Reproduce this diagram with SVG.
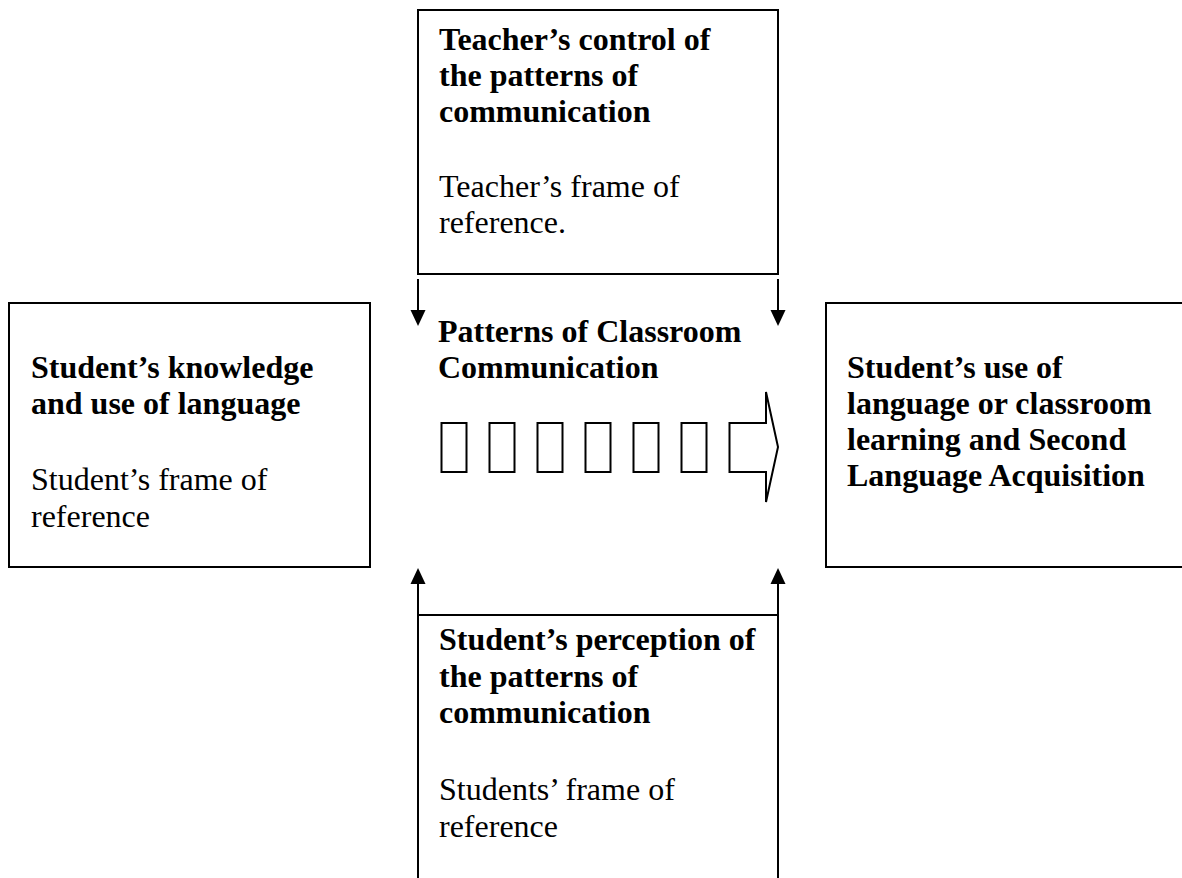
<svg xmlns="http://www.w3.org/2000/svg" width="1182" height="878" viewBox="0 0 1182 878">
  <defs>
    <style>
      .box { fill: #fff; stroke: #000; stroke-width: 2; }
      .link { fill: none; stroke: #000; stroke-width: 2; }
      .cell { fill: #fff; stroke: #000; stroke-width: 2; }
      text { font-family: "Liberation Serif", "Times New Roman", serif; font-size: 32px; fill: #000; }
      .b { font-weight: bold; }
    </style>
    <marker id="head" viewBox="0 0 10 10" refX="10" refY="5" markerWidth="8" markerHeight="8" markerUnits="userSpaceOnUse" orient="auto">
      <path d="M0,0 L10,5 L0,10 Z" fill="#000"/>
    </marker>
    <path id="tri" d="M0,0 L15,7.5 L0,15 Z" fill="#000"/>
  </defs>

  <rect width="1182" height="878" fill="#fff"/>

  <!-- Teacher node -->
  <g id="teacher">
    <rect class="box" x="418" y="10" width="360" height="264"/>
    <text class="b" x="439" y="50">Teacher’s control of</text>
    <text class="b" x="439" y="86">the patterns of</text>
    <text class="b" x="439" y="122">communication</text>
    <text x="439" y="197">Teacher’s frame of</text>
    <text x="439" y="233">reference.</text>
  </g>

  <!-- Student knowledge node -->
  <g id="student-knowledge">
    <rect class="box" x="9" y="303" width="361" height="264"/>
    <text class="b" x="31" y="378">Student’s knowledge</text>
    <text class="b" x="31" y="414">and use of language</text>
    <text x="31" y="490">Student’s frame of</text>
    <text x="31" y="527">reference</text>
  </g>

  <!-- Outcome node -->
  <g id="student-use">
    <rect class="box" x="826" y="303" width="400" height="264"/>
    <text class="b" x="847" y="378">Student’s use of</text>
    <text class="b" x="847" y="414">language or classroom</text>
    <text class="b" x="847" y="450">learning and Second</text>
    <text class="b" x="847" y="486">Language Acquisition</text>
  </g>

  <!-- Student perception node -->
  <g id="student-perception">
    <rect class="box" x="418" y="615" width="360" height="300"/>
    <text class="b" x="439" y="650">Student’s perception of</text>
    <text class="b" x="439" y="687">the patterns of</text>
    <text class="b" x="439" y="723">communication</text>
    <text x="439" y="800">Students’ frame of</text>
    <text x="439" y="837">reference</text>
  </g>

  <!-- Central patterns node -->
  <g id="patterns">
    <text class="b" x="438" y="342">Patterns of Classroom</text>
    <text class="b" x="438" y="378">Communication</text>
    <rect class="cell" x="441.5" y="423" width="25" height="49"/>
    <rect class="cell" x="489.5" y="423" width="25" height="49"/>
    <rect class="cell" x="537.5" y="423" width="25" height="49"/>
    <rect class="cell" x="585.5" y="423" width="25" height="49"/>
    <rect class="cell" x="633.5" y="423" width="25" height="49"/>
    <rect class="cell" x="681.5" y="423" width="25" height="49"/>
    <path class="cell" d="M729.5,423 L766,423 L766,392 L778,447 L766,502 L766,472 L729.5,472 Z"/>
  </g>

  <!-- Connectors -->
  <g id="connectors">
    <line class="link" x1="418" y1="279" x2="418" y2="311"/>
    <path d="M410.5,310 L425.5,310 L418,326 Z" fill="#000"/>
    <line class="link" x1="778" y1="279" x2="778" y2="311"/>
    <path d="M770.5,310 L785.5,310 L778,326 Z" fill="#000"/>
    <line class="link" x1="418" y1="615" x2="418" y2="582"/>
    <path d="M410.5,584 L425.5,584 L418,568 Z" fill="#000"/>
    <line class="link" x1="778" y1="615" x2="778" y2="582"/>
    <path d="M770.5,584 L785.5,584 L778,568 Z" fill="#000"/>
  </g>
</svg>
